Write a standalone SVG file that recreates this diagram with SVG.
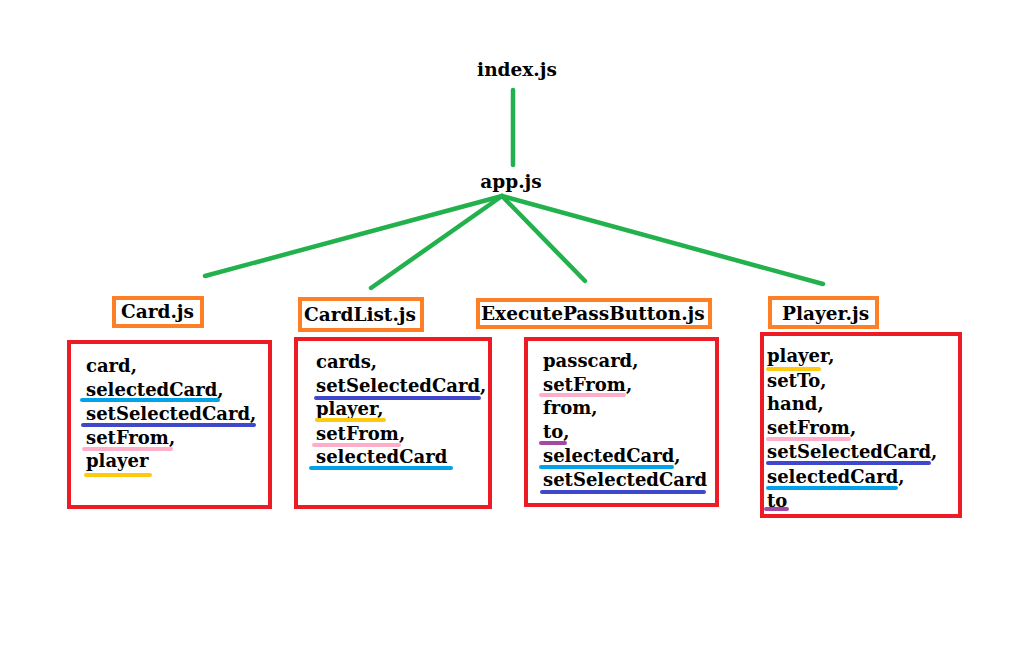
<svg xmlns="http://www.w3.org/2000/svg" width="1016" height="663" viewBox="0 0 1016 663">
<style>
text{font-family:"DejaVu Serif","Liberation Serif",serif;font-weight:bold;font-size:18px;fill:#000}
.t{font-size:18.5px}
.conn line{stroke:#22b14c;stroke-width:4.5;stroke-linecap:round}
.title{fill:#fff;stroke:#ff7f27;stroke-width:4}
.box{fill:#fff;stroke:#ed1c24;stroke-width:4}
.u{stroke-width:4;stroke-linecap:round}
.cy{stroke:#00a2e8}.db{stroke:#3f48cc}.pk{stroke:#ffaec9}.yl{stroke:#ffc90e}.pu{stroke:#a349a4}
</style>
<rect width="1016" height="663" fill="#fff"/>
<g class="conn">
<line x1="513" y1="90" x2="513" y2="165"/>
<line x1="502" y1="196" x2="205" y2="276"/>
<line x1="502" y1="196" x2="371" y2="288"/>
<line x1="502" y1="196" x2="585" y2="281"/>
<line x1="502" y1="196" x2="823" y2="284"/>
</g>
<g id="index"><text class="t" x="517" y="76" text-anchor="middle">index.js</text></g>
<g id="app"><text class="t" x="511" y="188" text-anchor="middle">app.js</text></g>

<g id="card">
<rect class="title" x="114" y="298" width="88" height="28"/>
<text class="t" x="121" y="318">Card.js</text>
<rect class="box" x="69" y="342" width="201" height="165"/>
<text x="86" y="372">card,</text>
<text x="86" y="396">selectedCard,</text>
<text x="86" y="420">setSelectedCard,</text>
<text x="86" y="444">setFrom,</text>
<text x="86" y="467">player</text>
<line class="u cy" x1="82" y1="400" x2="218" y2="400"/>
<line class="u db" x1="83" y1="425" x2="254" y2="425"/>
<line class="u pk" x1="84" y1="449" x2="171" y2="449"/>
<line class="u yl" x1="86" y1="475" x2="150" y2="475"/>
</g>

<g id="cardlist">
<rect class="title" x="300" y="299" width="122" height="31"/>
<text class="t" x="304" y="321">CardList.js</text>
<rect class="box" x="296" y="339" width="194" height="168"/>
<text x="316" y="368">cards,</text>
<text x="316" y="392">setSelectedCard,</text>
<text x="316" y="415">player,</text>
<text x="316" y="440">setFrom,</text>
<text x="316" y="463">selectedCard</text>
<line class="u db" x1="316" y1="398" x2="479" y2="398"/>
<line class="u yl" x1="317" y1="420" x2="384" y2="420"/>
<line class="u pk" x1="314" y1="445" x2="399" y2="445"/>
<line class="u cy" x1="311" y1="468" x2="451" y2="468"/>
</g>

<g id="execute">
<rect class="title" x="478" y="300" width="232" height="27"/>
<text class="t" x="481" y="320">ExecutePassButton.js</text>
<rect class="box" x="526" y="339" width="191" height="166"/>
<text x="543" y="367">passcard,</text>
<text x="543" y="391">setFrom,</text>
<text x="543" y="414">from,</text>
<text x="543" y="438">to,</text>
<text x="543" y="462">selectedCard,</text>
<text x="543" y="486">setSelectedCard</text>
<line class="u pk" x1="541" y1="395" x2="624" y2="395"/>
<line class="u pu" x1="541" y1="443" x2="565" y2="443"/>
<line class="u cy" x1="541" y1="467" x2="672" y2="467"/>
<line class="u db" x1="542" y1="492" x2="704" y2="492"/>
</g>

<g id="player">
<rect class="title" x="770" y="298" width="107" height="29"/>
<text class="t" x="782" y="320">Player.js</text>
<rect class="box" x="762" y="334" width="198" height="182"/>
<text x="767" y="362">player,</text>
<text x="767" y="387">setTo,</text>
<text x="767" y="410">hand,</text>
<text x="767" y="434">setFrom,</text>
<text x="767" y="458">setSelectedCard,</text>
<text x="767" y="483">selectedCard,</text>
<text x="767" y="507">to</text>
<line class="u yl" x1="768" y1="369" x2="819" y2="369"/>
<line class="u pk" x1="768" y1="439" x2="849" y2="439"/>
<line class="u db" x1="768" y1="463" x2="929" y2="463"/>
<line class="u cy" x1="768" y1="488" x2="896" y2="488"/>
<line class="u pu" x1="766" y1="509" x2="787" y2="509"/>
</g>
</svg>
